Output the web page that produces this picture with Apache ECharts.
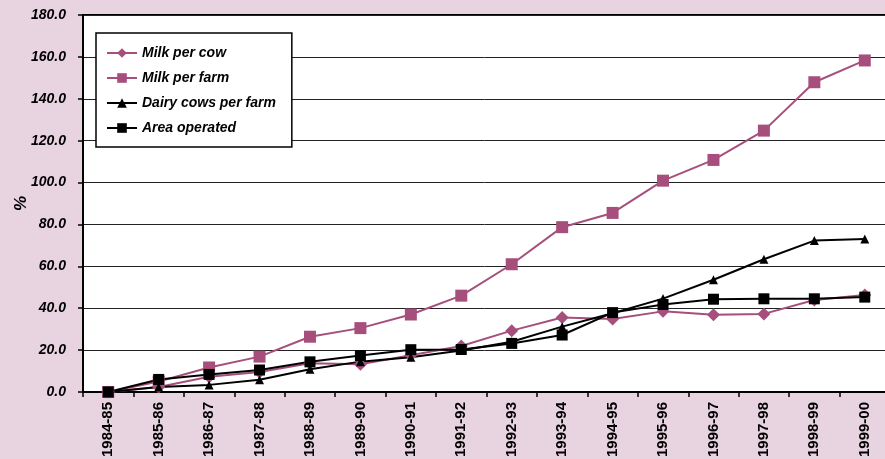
<!DOCTYPE html>
<html>
<head>
<meta charset="utf-8">
<script src="https://cdn.jsdelivr.net/npm/echarts@6/dist/echarts.min.js"></script>
<style>
  html, body { margin: 0; padding: 0; background: #E8D3E0; }
  #chart { width: 885px; height: 459px; }
</style>
</head>
<body>
<div id="chart"></div>
<script>
// Seasons on the horizontal axis
const seasons = ['1984-85', '1985-86', '1986-87', '1987-88', '1988-89', '1989-90', '1990-91', '1991-92',
  '1992-93', '1993-94', '1994-95', '1995-96', '1996-97', '1997-98', '1998-99', '1999-00'];

// Cumulative change since 1984-85, in %
const milkPerCow = [0, 2.4, 7.3, 9.6, 13.7, 13.2, 17.5, 22.0, 29.3, 35.6, 34.8, 38.5, 36.9, 37.3, 43.9, 46.3];
const milkPerFarm = [0, 5.0, 11.7, 16.9, 26.4, 30.5, 37.0, 46.0, 61.0, 78.7, 85.5, 100.9, 110.8, 124.8, 147.9, 158.3];
const dairyCowsPerFarm = [0, 2.4, 3.4, 5.8, 10.9, 14.5, 16.6, 19.8, 24.0, 31.2, 37.6, 44.6, 53.6, 63.4, 72.3, 73.0];
const areaOperated = [0, 6.0, 8.4, 10.5, 14.4, 17.4, 20.2, 20.3, 23.2, 27.2, 37.9, 41.8, 44.3, 44.5, 44.5, 45.3];

// Value axis range and step
const yTicks = { min: 0, max: 180, interval: 20 };

const PINK = '#A64F7D';
const FONT = '"Liberation Sans Narrow", "Liberation Sans", Arial, sans-serif';

const chart = echarts.init(document.getElementById('chart'), null, { renderer: 'canvas' });

function lineSeries(name, data, color, symbol, size) {
  return {
    name: name,
    type: 'line',
    data: data,
    symbol: symbol,
    symbolSize: size,
    showAllSymbol: true,
    lineStyle: { color: color, width: 2 },
    itemStyle: { color: color },
    emphasis: { disabled: true },
    animation: false
  };
}

chart.setOption({
  backgroundColor: '#E8D3E0',
  animation: false,
  grid: {
    left: 83, top: 15, width: 807, height: 377,
    containLabel: false,
    outerBoundsMode: 'none',
    show: true, backgroundColor: '#ffffff', borderColor: '#000', borderWidth: 2
  },
  legend: {
    orient: 'vertical',
    left: 96, top: 33,
    backgroundColor: '#ffffff',
    borderColor: '#000', borderWidth: 1.5,
    padding: [12, 16, 11, 10],
    itemWidth: 30, itemHeight: 12, itemGap: 9,
    textStyle: { fontFamily: FONT, fontSize: 14, fontWeight: 'bold', fontStyle: 'italic', color: '#000', lineHeight: 16 },
    data: ['Milk per cow', 'Milk per farm', 'Dairy cows per farm', 'Area operated']
  },
  xAxis: {
    type: 'category',
    data: seasons,
    boundaryGap: true,
    axisLine: { lineStyle: { color: '#000', width: 2 } },
    axisTick: { show: true, length: 5, lineStyle: { color: '#000', width: 1.5 } },
    axisLabel: {
      rotate: 90, margin: 10, color: '#000',
      fontFamily: FONT, fontSize: 15, fontWeight: 'bold'
    },
    splitLine: { show: false }
  },
  yAxis: {
    type: 'value',
    min: yTicks.min, max: yTicks.max, interval: yTicks.interval,
    name: '%',
    nameLocation: 'middle',
    nameRotate: 90,
    nameGap: 53,
    nameMoveOverlap: false,
    nameTextStyle: { fontFamily: FONT, fontSize: 17, fontWeight: 'bold', fontStyle: 'italic', color: '#000' },
    axisLine: { show: true, lineStyle: { color: '#000', width: 2 } },
    axisTick: { show: true, length: 5, lineStyle: { color: '#000', width: 1.5 } },
    axisLabel: {
      margin: 17, color: '#000',
      fontFamily: FONT, fontSize: 14, fontWeight: 'bold', fontStyle: 'italic',
      formatter: v => v.toFixed(1)
    },
    splitLine: { show: true, lineStyle: { color: '#222', width: 1 } }
  },
  series: [
    lineSeries('Milk per cow', milkPerCow, PINK, 'diamond', 13),
    lineSeries('Milk per farm', milkPerFarm, PINK, 'rect', 12),
    lineSeries('Dairy cows per farm', dairyCowsPerFarm, '#000', 'triangle', 9),
    lineSeries('Area operated', areaOperated, '#000', 'rect', 11)
  ]
});
</script>
</body>
</html>
